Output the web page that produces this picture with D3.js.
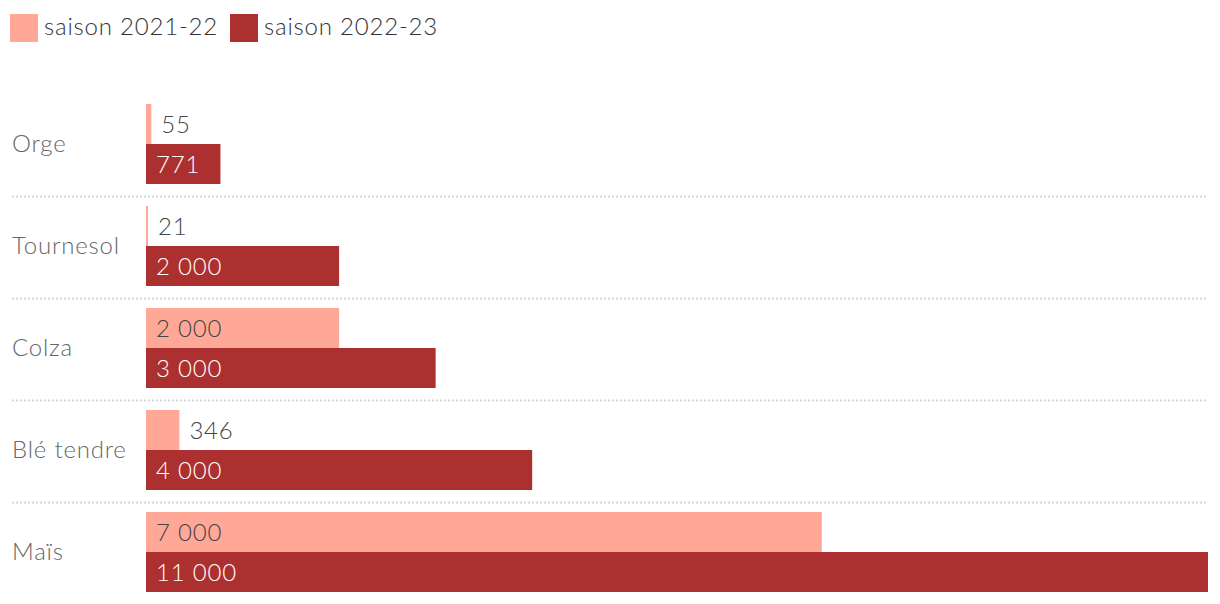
<!DOCTYPE html>
<html>
<head>
<meta charset="utf-8">
<script src="https://cdn.jsdelivr.net/npm/d3@7"></script>
<style>
  body { margin: 0; background: #fff; }
  text { font-family: Lato, "Open Sans", sans-serif; font-weight: 300; letter-spacing: 0.8px; }
</style>
</head>
<body>
<svg id="board" width="1220" height="604"></svg>
<script>
let categories = ['Orge', 'Tournesol', 'Colza', 'Blé tendre', 'Maïs']
let seriesNames = ['saison 2021-22', 'saison 2022-23']
let values2122 = [55, 21, 2000, 346, 7000]
let values2223 = [771, 2000, 3000, 4000, 11000]
let colors = ['#ffa897', '#ad3030']

let board = d3.select('#board')

// legend
let legend = board.append('g')
let lx = [10, 230]
seriesNames.forEach((name, i) => {
    legend.append('rect')
        .attr('x', lx[i]).attr('y', 14)
        .attr('width', 28).attr('height', 28)
        .attr('fill', colors[i])
    legend.append('text')
        .attr('x', lx[i] + 34).attr('y', 35)
        .attr('font-size', 24)
        .attr('fill', '#333')
        .text(name)
})

let x = d3.scaleLinear().domain([0, 11000]).range([146, 1208])
let y = d3.scaleBand().domain(categories).range([93, 603]).paddingInner(0).paddingOuter(0)
let inner = d3.scaleBand().domain([0, 1]).range([11, y.bandwidth() - 11])

let fmt = (v) => d3.format(',')(v).replace(/,/g, ' ')

let rows = board.selectAll('g.row')
    .data(categories)
    .enter()
    .append('g')
    .attr('class', 'row')
    .attr('transform', (d) => 'translate(0,' + y(d) + ')')

// separators between rows
rows.filter((d, i) => i > 0)
    .append('line')
    .attr('x1', 12).attr('x2', 1208)
    .attr('y1', 1.5).attr('y2', 1.5)
    .attr('stroke', '#d6d6d6')
    .attr('stroke-width', 2)
    .attr('stroke-dasharray', '2,2')

rows.append('text')
    .attr('x', 12)
    .attr('y', y.bandwidth() / 2 + 8)
    .attr('font-size', 24)
    .attr('fill', '#666')
    .text((d) => d)

let allSeries = [values2122, values2223]
allSeries.forEach((vals, s) => {
    rows.append('rect')
        .attr('x', x(0))
        .attr('y', inner(s))
        .attr('width', (d, i) => x(vals[i]) - x(0))
        .attr('height', inner.bandwidth())
        .attr('fill', colors[s])

    rows.append('text')
        .attr('y', inner(s) + inner.bandwidth() / 2 + 8.5)
        .attr('font-size', 24)
        .attr('x', x(0) + 10)
        .attr('fill', s === 1 ? '#fff' : '#444')
        .text((d, i) => fmt(vals[i]))
        .each(function(d, i) {
            let w = x(vals[i]) - x(0)
            let tw = this.getComputedTextLength()
            if (tw + 14 > w) {
                d3.select(this).attr('x', x(vals[i]) + 10).attr('fill', '#444')
            }
        })
})
</script>
</body>
</html>
